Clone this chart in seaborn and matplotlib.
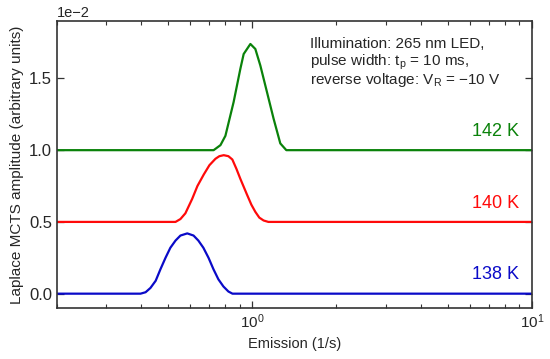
import numpy as np
import pandas as pd
import matplotlib
matplotlib.use("Agg")
import matplotlib.pyplot as plt
import seaborn as sns

# emission rate (1/s) and Laplace MCTS amplitude (in units of 1e-2)
x_138 = [0.2, 0.398, 0.415, 0.432, 0.451, 0.469, 0.489, 0.509, 0.531, 0.553, 0.585,
         0.616, 0.641, 0.668, 0.697, 0.726, 0.756, 0.788, 0.821, 0.849, 10.0]
y_138 = [0.0, 0.0, 0.01, 0.04, 0.09, 0.17, 0.25, 0.32, 0.37, 0.405, 0.42,
         0.405, 0.37, 0.32, 0.25, 0.17, 0.10, 0.05, 0.015, 0.0, 0.0]

x_140 = [0.2, 0.531, 0.553, 0.576, 0.609, 0.636, 0.670, 0.702, 0.738, 0.762, 0.790,
         0.821, 0.848, 0.877, 0.906, 0.957, 0.992, 1.025, 1.059, 1.097, 1.141, 10.0]
y_140 = [0.5, 0.5, 0.52, 0.56, 0.66, 0.75, 0.83, 0.895, 0.94, 0.958, 0.965,
         0.958, 0.935, 0.87, 0.80, 0.69, 0.62, 0.57, 0.53, 0.51, 0.5, 0.5]

x_142 = [0.2, 0.727, 0.769, 0.801, 0.857, 0.906, 0.931, 0.984, 1.025, 1.068,
         1.128, 1.191, 1.259, 1.323, 10.0]
y_142 = [1.0, 1.0, 1.035, 1.10, 1.335, 1.567, 1.67, 1.74, 1.705, 1.59,
         1.405, 1.22, 1.047, 1.0, 1.0]

temps = ["138 K", "140 K", "142 K"]
baselines = [0.0, 0.5, 1.0]
colors = {"138 K": "#0A0AC8", "140 K": "#FF0A0A", "142 K": "#0A820A"}

notes = ["Illumination: 265 nm LED,",
         "pulse width: $\\mathregular{t_p}$ = 10 ms,",
         "reverse voltage: $\\mathregular{V_R}$ = \u221210 V"]

SCALE = 1e-2

frames = []
for t, xs, ys in zip(temps, [x_138, x_140, x_142], [y_138, y_140, y_142]):
    frames.append(pd.DataFrame({"emission": xs,
                                "amp": np.array(ys) * SCALE,
                                "T": t}))
df = pd.concat(frames, ignore_index=True)

sns.set_style("ticks")
plt.rcParams["font.family"] = ["Liberation Sans", "DejaVu Sans"]
plt.rcParams["mathtext.fontset"] = "custom"
plt.rcParams["mathtext.rm"] = "Liberation Sans"
plt.rcParams["mathtext.it"] = "Liberation Sans:italic"
plt.rcParams["axes.unicode_minus"] = True

fig = plt.figure(figsize=(5.5, 3.59), dpi=100)
ax = fig.add_axes([0.1036, 0.142, 0.8634, 0.7995])

sns.lineplot(data=df, x="emission", y="amp", hue="T", palette=colors,
             estimator=None, sort=False, lw=1.6, legend=False, ax=ax)

ax.set_xscale("log")
ax.set_xlim(0.2, 10)
ax.set_ylim(-0.1 * SCALE, 1.9 * SCALE)
ax.set_yticks(np.array([0.0, 0.5, 1.0, 1.5]) * SCALE)
ax.ticklabel_format(axis="y", style="sci", scilimits=(0, 0))
ax.yaxis.get_offset_text().set_fontsize(10.5)

ax.tick_params(which="both", direction="in", top=True, right=True,
               color="#333333")
ax.tick_params(axis="y", labelsize=12)
ax.tick_params(axis="x", labelsize=11)
ax.tick_params(which="major", length=5, width=0.9)
ax.tick_params(which="minor", length=3, width=0.8)
for s in ax.spines.values():
    s.set_linewidth(1.2)
    s.set_color("#333333")

ax.set_xlabel("Emission (1/s)", fontsize=10.5)
ax.set_ylabel("Laplace MCTS amplitude (arbitrary units)", fontsize=11)

for t, b in zip(temps, baselines):
    ax.text(9.0, (b + 0.1) * SCALE, t, color=colors[t], fontsize=13,
            ha="right", va="baseline")

for i, line in enumerate(notes):
    ax.text(0.533, 0.906 - i * 0.063, line, transform=ax.transAxes,
            ha="left", va="baseline", fontsize=11)

fig.savefig("out.png", dpi=100)
